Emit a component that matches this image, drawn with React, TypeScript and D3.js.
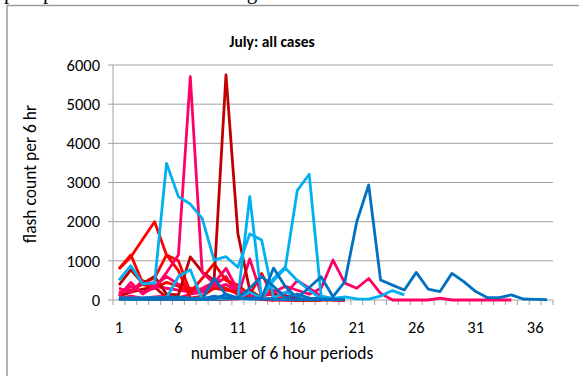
import * as d3 from "d3";

const WIDTH = 579;
const HEIGHT = 376;
const PLOT = { left: 113, right: 553, top: 65, bottom: 300 };

const periods = d3.range(1, 38);
const xTickLabels = [1, 6, 11, 16, 21, 26, 31, 36];
const yTicks = [0, 1000, 2000, 3000, 4000, 5000, 6000];

const DARK_RED = "#C00000";
const RED = "#FF0000";
const PINK = "#FF0066";
const LIGHT_BLUE = "#00B0F0";
const BLUE = "#0070C0";

type V = number | null;

// flash counts per 6 hr, one value per period (null = no data)
const darkRed1: V[] = [380, 770, 425, 600, 150, 130, 1100, 720, 500, 5750, 1700, 250, 50, 20, 10, 0, 0, 0, 0, 0];
const darkRed2: V[] = [100, 200, 280, 330, 60, 30, 20, 40, 30, 20, 50, 100, 60, 30, 10, 0, 0, 0];
const darkRed3: V[] = [20, 30, 20, 10, 20, 10, 20, 10, 10, 20, 30, 80, 120, 150, 100, 60, 40, 20, 10, 0];
const red1: V[] = [800, 1150, 430, 560, 1150, 1000, 200, 550, 930, 500, 380, 130, 680, 60, 20, 0, 0, 0];
const red2: V[] = [790, 1100, 1550, 2000, 1150, 750, 50, 100, 300, 250, 200, 80, 20, 0, 0, 0];
const red3: V[] = [200, 250, 400, 300, 450, 350, 200, 250, 400, 300, 150, 50, 20, 0];
const pink1: V[] = [150, 350, 200, 300, 700, 1150, 5700, 700, 430, 810, 250, 100, 30, 10, 0, 0];
const pink2: V[] = [100, 450, 150, 350, 600, 400, 300, 250, 350, 600, 100, 1050, 100, 250, 150, 500, 300, 100, 0, 0];
const pink3: V[] = [50, 100, 50, 80, 100, 50, 150, 200, 300, 400, 200, 50, 100, 200, 350, 250, 150, 300, 1020, 430, 300, 550, 170, 0, 0, 0, 0, 50, 0, 0, 0, 0, 0, 0];
const pink4: V[] = [300, 200, 500, 350, 300, 250, 200, 300, 450, 550, 200, 50, 10, 0];
const lightBlue1: V[] = [510, 875, 410, 440, 3490, 2640, 2450, 2085, 1020, 1105, 835, 1685, 1530, 50, 200, 100, 50, 10];
const lightBlue2: V[] = [50, 40, 50, 60, 50, 50, 40, 50, 60, 50, 50, 2640, 50, 500, 810, 500, 250, 30];
const lightBlue3: V[] = [20, 30, 20, 30, 20, 30, 20, 30, 20, 30, 40, 30, 40, 550, 850, 2800, 3210, 100, 40, 80, 30, 20, 100, 240, 130];
const lightBlue4: V[] = [50, 50, 50, 50, 50, 600, 770, 20, 30, 100, 50, 200, 50, 20, 10];
const blue1: V[] = [30, 30, 30, 30, 30, 30, 30, 30, 100, 50, 30, 50, 50, 815, 340, 50, 320, 595, 85, 470, 2000, 2935, 510, 380, 255, 705, 280, 215, 680, 470, 215, 60, 60, 130, 25, 15, 10];
const blue2: V[] = [50, 50, 50, 60, 60, 80, 50, 20, 555, 130, 50, 300, 600, 350, 50, 150, 50, 30, 20, 10];
const blue3: V[] = [20, 20, 20, 20, 20, 20, 20, 20, 20, 150, 50, 20, 20, 20, 10, 10, 10, 10, 10, 10];

const series: { color: string; values: V[] }[] = [
  { color: DARK_RED, values: darkRed2 },
  { color: DARK_RED, values: darkRed3 },
  { color: RED, values: red3 },
  { color: PINK, values: pink4 },
  { color: PINK, values: pink3 },
  { color: PINK, values: pink2 },
  { color: RED, values: red2 },
  { color: RED, values: red1 },
  { color: DARK_RED, values: darkRed1 },
  { color: PINK, values: pink1 },
  { color: LIGHT_BLUE, values: lightBlue4 },
  { color: LIGHT_BLUE, values: lightBlue2 },
  { color: LIGHT_BLUE, values: lightBlue3 },
  { color: LIGHT_BLUE, values: lightBlue1 },
  { color: BLUE, values: blue3 },
  { color: BLUE, values: blue2 },
  { color: BLUE, values: blue1 },
];

const FONT = "Carlito, Calibri, 'Open Sans', 'Liberation Sans', sans-serif";

export default function App() {
  const x = d3
    .scaleBand<number>()
    .domain(periods)
    .range([PLOT.left, PLOT.right])
    .padding(0);
  const y = d3.scaleLinear().domain([0, 6000]).range([PLOT.bottom, PLOT.top]);
  const bw = x.bandwidth();

  const line = d3
    .line<V>()
    .defined((d) => d != null)
    .x((_, i) => (x(periods[i]) ?? 0) + bw / 2)
    .y((d) => y(d as number));

  return (
    <svg
      width={WIDTH}
      height={HEIGHT}
      style={{ position: "absolute", left: 0, top: 0, background: "white" }}
      fontFamily={FONT}
    >
      {/* page text cut off above the chart */}
      <text x={4} y={-1} fontSize={21} fontFamily="'Liberation Serif', serif" letterSpacing={9} fill="#000">
        population in general is not the same across all</text>
      {/* chart frame */}
      <line x1={7} x2={7} y1={5} y2={HEIGHT} stroke="#9a9a9a" strokeWidth={1.5} />
      <line x1={7} x2={WIDTH} y1={5.5} y2={5.5} stroke="#9a9a9a" strokeWidth={1.5} />

      <text x={272} y={47} textAnchor="middle" fontSize={15.5} fontWeight="bold">
        July: all cases
      </text>

      {/* gridlines + y ticks */}
      {yTicks.map((t) => (
        <g key={t}>
          {t > 0 && (
            <line x1={PLOT.left} x2={PLOT.right} y1={y(t)} y2={y(t)} stroke="#a0a0a0" strokeWidth={1} />
          )}
          <line x1={PLOT.left - 5} x2={PLOT.left} y1={y(t)} y2={y(t)} stroke="#a0a0a0" />
          <text x={PLOT.left - 13} y={y(t)} dy="0.35em" textAnchor="end" fontSize={16.5}>
            {t}
          </text>
        </g>
      ))}
      <line x1={PLOT.left} x2={PLOT.left} y1={PLOT.top} y2={PLOT.bottom} stroke="#a0a0a0" />

      {/* x axis */}
      <line x1={PLOT.left} x2={PLOT.right} y1={PLOT.bottom} y2={PLOT.bottom} stroke="#a0a0a0" />
      {d3.range(periods.length + 1).map((i) => (
        <line
          key={i}
          x1={PLOT.left + i * bw}
          x2={PLOT.left + i * bw}
          y1={PLOT.bottom}
          y2={PLOT.bottom + 5}
          stroke="#a0a0a0"
        />
      ))}
      {xTickLabels.map((t) => (
        <text key={t} x={(x(t) ?? 0) + bw / 2} y={333} textAnchor="middle" fontSize={16.5}>
          {t}
        </text>
      ))}

      {series.map((s, i) => (
        <path
          key={i}
          d={line(s.values) ?? ""}
          fill="none"
          stroke={s.color}
          strokeWidth={2.8}
          strokeLinejoin="round"
        />
      ))}

      <text x={282} y={359} textAnchor="middle" fontSize={17.5}>
        number of 6 hour periods
      </text>
      <text transform="translate(36,174) rotate(-90)" textAnchor="middle" fontSize={17.5}>
        flash count per 6 hr
      </text>
    </svg>
  );
}
